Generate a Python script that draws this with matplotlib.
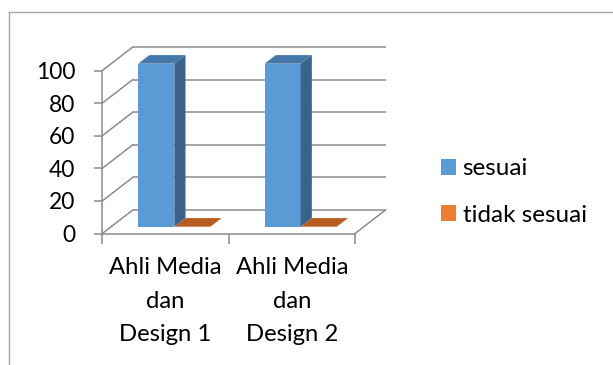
import matplotlib
matplotlib.use("Agg")
import matplotlib.pyplot as plt
import matplotlib.patches as mpatches
from matplotlib.lines import Line2D
import numpy as np

plt.rcParams["font.family"] = ["Lato", "DejaVu Sans"]

categories = ["Ahli Media\ndan\nDesign 1", "Ahli Media\ndan\nDesign 2"]
series_names = ["sesuai", "tidak sesuai"]
sesuai = [100, 100]
tidak_sesuai = [0, 0]
yticks = [0, 20, 40, 60, 80, 100]

FRONT = ["#5B9BD5", "#ED7D31"]
SIDE = ["#3A638C", "#9E5420"]
TOP = ["#4677AA", "#B65D21"]
GRID = "#8C8C8C"

W, H = 613, 365
fig = plt.figure(figsize=(W / 100, H / 100), dpi=100)

# front plane of the 3d box, in pixels
x0, x1, yb, yt = 102.3, 355.0, 233.5, 70.5
ax = fig.add_axes([x0 / W, 1 - yb / H, (x1 - x0) / W, (yb - yt) / H])
ax.set_xlim(-0.5, 1.5)
ax.set_ylim(0, 100)
ax.patch.set_visible(False)

ppx = (x1 - x0) / 2.0
ppy = (yb - yt) / 100.0
DX, DY = 30.5, 23.5  # full depth offset, pixels


def shift(d):
    return d * DX / ppx, d * DY / ppy


# walls
bx, by = shift(1.0)
for v in yticks:
    ax.plot([-0.5 + bx, 1.5 + bx], [v + by, v + by], color=GRID, lw=1.1,
            clip_on=False, zorder=1, solid_capstyle="butt")
    ax.plot([-0.5, -0.5 + bx], [v, v + by], color=GRID, lw=1.1,
            clip_on=False, zorder=1)
ax.plot([1.5, 1.5 + bx], [0, by], color=GRID, lw=1.1, clip_on=False, zorder=1)

# bars
bw = 1 / 3.5
d0, d1 = 0.29, 0.656
sx0, sy0 = shift(d0)
sx1, sy1 = shift(d1)
xs = np.arange(len(categories))
for i, vals in enumerate([sesuai, tidak_sesuai]):
    xc = xs + (i - 0.5) * bw
    ax.bar(xc + sx0, vals, bw, bottom=sy0, color=FRONT[i], zorder=3,
           clip_on=False, linewidth=0)
    for x, v in zip(xc, vals):
        r = x + bw / 2
        l = x - bw / 2
        if v > 0:
            side = [(r + sx0, sy0), (r + sx1, sy1), (r + sx1, v + sy1), (r + sx0, v + sy0)]
            ax.add_patch(mpatches.Polygon(side, closed=True, facecolor=SIDE[i],
                                          edgecolor="none", zorder=3, clip_on=False))
        top = [(l + sx0, v + sy0), (r + sx0, v + sy0), (r + sx1, v + sy1), (l + sx1, v + sy1)]
        ax.add_patch(mpatches.Polygon(top, closed=True, facecolor=TOP[i],
                                      edgecolor="none", zorder=3, clip_on=False))

# axes
for s in ["top", "right"]:
    ax.spines[s].set_visible(False)
for s in ["left", "bottom"]:
    ax.spines[s].set_color(GRID)
    ax.spines[s].set_linewidth(1.1)

ax.set_yticks(yticks)
ax.tick_params(axis="y", direction="out", length=6, width=1.1, color=GRID,
               pad=13.5, labelsize=16.4, labelcolor="black")
ax.set_xticks(xs)
ax.set_xticklabels(categories, fontsize=17.2, linespacing=1.74)
ax.tick_params(axis="x", which="major", length=0, pad=17)
ax.set_xticks([-0.5, 0.5, 1.5], minor=True)
ax.tick_params(axis="x", which="minor", direction="out", length=7.5,
               width=1.1, color=GRID)

handles = [mpatches.Patch(facecolor=c, edgecolor="none") for c in FRONT]
fig.legend(handles, series_names, loc="center left",
           bbox_to_anchor=(440.7 / W, 1 - 192 / H), frameon=False,
           fontsize=17.5, handlelength=0.62, handleheight=0.62,
           handletextpad=0.28, labelspacing=1.05, borderpad=0, borderaxespad=0)

# chart border (cropped on right and bottom)
fig.add_artist(Line2D([9 / W, 9 / W], [0, 1 - 11.7 / H], color="#A6A6A6",
                      lw=1.0, transform=fig.transFigure))
fig.add_artist(Line2D([9 / W, 1], [1 - 11.7 / H, 1 - 11.7 / H], color="#A6A6A6",
                      lw=1.0, transform=fig.transFigure))

fig.savefig("out.png", dpi=100)
